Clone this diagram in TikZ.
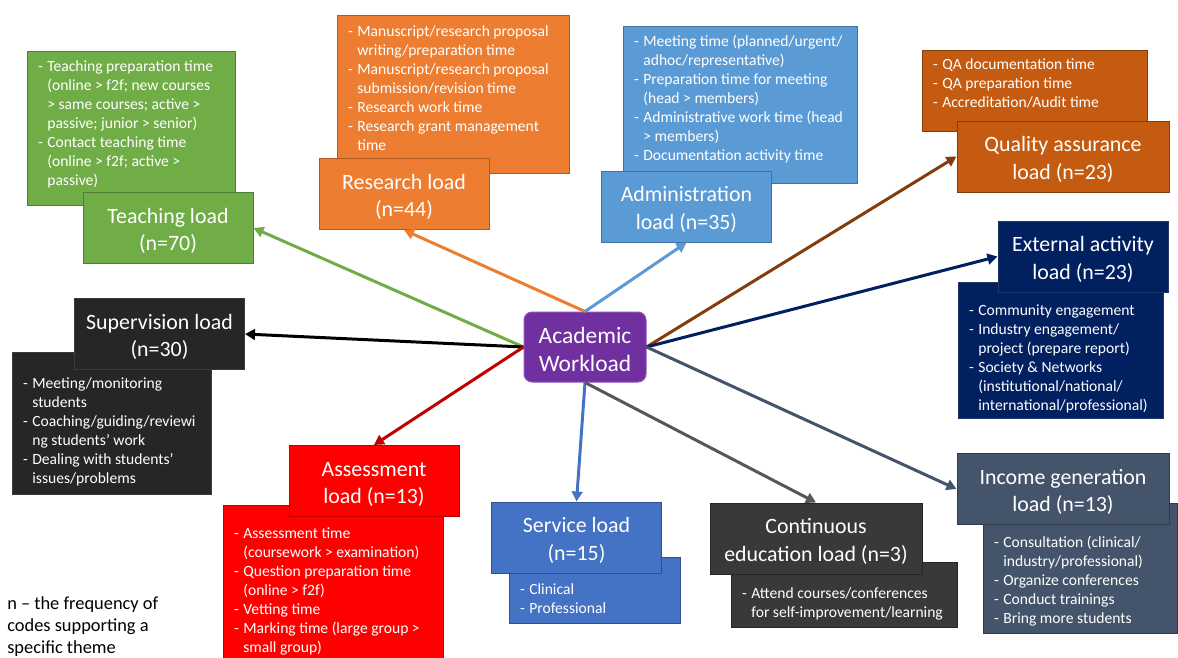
\documentclass[tikz,border=0pt]{standalone}
\usepackage{fontspec}
\setmainfont{Carlito}
\usetikzlibrary{arrows.meta}

\definecolor{teachfill}{HTML}{70AD47}\definecolor{teachline}{HTML}{507E32}
\definecolor{resfill}{HTML}{ED7D31}\definecolor{resline}{HTML}{AE5A21}
\definecolor{admfill}{HTML}{5B9BD5}\definecolor{admline}{HTML}{41719C}
\definecolor{qafill}{HTML}{C55A11}\definecolor{qaline}{HTML}{843C0C}
\definecolor{extfill}{HTML}{002060}\definecolor{extline}{HTML}{1F3864}
\definecolor{supfill}{HTML}{262626}\definecolor{supline}{HTML}{3A3A3A}
\definecolor{assfill}{HTML}{FF0000}\definecolor{assline}{HTML}{C00000}
\definecolor{servfill}{HTML}{4472C4}\definecolor{servline}{HTML}{2F528F}
\definecolor{contfill}{HTML}{3B3838}\definecolor{contline}{HTML}{262626}
\definecolor{incfill}{HTML}{44546A}\definecolor{incline}{HTML}{2F3B4A}
\definecolor{acadfill}{HTML}{7030A0}\definecolor{acadline}{HTML}{8E55B8}

\newdimen\pxu \pxu=0.75pt
\newcommand{\titlefont}{\fontsize{16.4}{20.5}\selectfont}
\newcommand{\detailfont}{\fontsize{11.7}{14.25}\selectfont}
\newcommand{\acadfont}{\fontsize{17.6}{21}\selectfont}
\newcommand{\notefont}{\fontsize{13.8}{16.5}\selectfont}
\newcommand{\tup}{\rule{0pt}{16pt}}
\newcommand{\itm}[1]{\par\hangindent=7pt\hangafter=1\noindent\strut\makebox[7pt][l]{-}#1\strut}
\newcommand{\dbox}[4]{\parbox[c][#2\pxu][t]{#1\pxu}{\raggedright\leftskip=10.5\pxu\rightskip=0pt plus 1fil\relax
  \vspace*{\dimexpr#3\pxu-\ht\strutbox\relax}#4}}

\begin{document}
\begin{tikzpicture}
        [x=0.75pt, y=-0.75pt,
         detail/.style={anchor=north west, inner sep=0pt, line width=0.75pt, text=white, font=\detailfont},
         title/.style={minimum width=127.5pt, minimum height=53.25pt, inner sep=0pt, line width=0.75pt,
                       align=center, text=white, font=\titlefont},
         widetitle/.style={title, minimum width=159pt},
         arr/.style={line width=2.25pt, -{Triangle[length=7.5pt,width=8pt]}}]
        \clip (0,0) rectangle (1178,657);
        \fill [white] (0,0) rectangle (1178,657);
        \node [detail, fill=teachfill, draw=teachline] (teachd) at (27,51) {\dbox{208}{154}{20}{%
            \itm{Teaching preparation time\newline (online > f2f; new courses\newline > same courses; active >\newline passive; junior > senior)}%
            \itm{Contact teaching time\newline (online > f2f; active >\newline passive)}}};
        \node [detail, fill=resfill, draw=resline] (resd) at (337,15) {\dbox{232}{158}{21}{%
            \itm{Manuscript/research proposal\newline writing/preparation time}%
            \itm{Manuscript/research proposal\newline submission/revision time}%
            \itm{Research work time}%
            \itm{Research grant management\newline time}}};
        \node [detail, fill=admfill, draw=admline] (admd) at (623,26) {\dbox{234}{157}{20}{%
            \itm{Meeting time (planned/urgent/\newline adhoc/representative)}%
            \itm{Preparation time for meeting\newline (head > members)}%
            \itm{Administrative work time (head\newline > members)}%
            \itm{Documentation activity time}}};
        \node [detail, fill=qafill, draw=qaline] (qad) at (922,50) {\dbox{225}{81}{19}{%
            \itm{QA documentation time}%
            \itm{QA preparation time}%
            \itm{Accreditation/Audit time}}};
        \node [detail, fill=extfill, draw=extline] (extd) at (958,282) {\dbox{205}{136}{33}{%
            \itm{Community engagement}%
            \itm{Industry engagement/\newline project (prepare report)}%
            \itm{Society \& Networks\newline (institutional/national/\newline international/professional)}}};
        \node [detail, fill=supfill, draw=supline] (supd) at (12,352) {\dbox{199}{142}{36}{%
            \itm{Meeting/monitoring\newline students}%
            \itm{Coaching/guiding/reviewi\newline ng students’ work}%
            \itm{Dealing with students’\newline issues/problems}}};
        \node [detail, fill=assfill, draw=assline] (assd) at (223,505) {\dbox{220}{170}{33}{%
            \itm{Assessment time\newline (coursework > examination)}%
            \itm{Question preparation time\newline (online > f2f)}%
            \itm{Vetting time}%
            \itm{Marking time (large group >\newline small group)}}};
        \node [detail, fill=servfill, draw=servline] (servd) at (509,557) {\dbox{171}{66}{37}{%
            \itm{Clinical}%
            \itm{Professional}}};
        \node [detail, fill=contfill, draw=contline] (contd) at (731,562) {\dbox{226}{65}{36}{%
            \itm{Attend courses/conferences\newline for self-improvement/learning}}};
        \node [detail, fill=incfill, draw=incline] (incd) at (983,503) {\dbox{194}{130}{44}{%
            \itm{Consultation (clinical/\newline industry/professional)}%
            \itm{Organize conferences}%
            \itm{Conduct trainings}%
            \itm{Bring more students}}};
        \node [title, fill=teachfill, draw=teachline] (teach) at (168,228) {\tup Teaching load\\(n=70)};
        \node [title, fill=resfill, draw=resline] (res) at (404,194) {\tup Research load\\(n=44)};
        \node [title, fill=admfill, draw=admline] (adm) at (686.5,206.5) {\tup Administration\\load (n=35)};
        \node [widetitle, fill=qafill, draw=qaline] (qa) at (1063,156.5) {\tup Quality assurance\\load (n=23)};
        \node [title, fill=extfill, draw=extline] (ext) at (1083,256.5) {\tup External activity\\load (n=23)};
        \node [title, fill=supfill, draw=supline] (sup) at (159.5,334) {\tup Supervision load\\(n=30)};
        \node [title, fill=assfill, draw=assline] (ass) at (374,481) {\tup Assessment\\load (n=13)};
        \node [title, fill=servfill, draw=servline] (serv) at (576.5,537.5) {\tup Service load\\(n=15)};
        \node [widetitle, fill=contfill, draw=contline] (cont) at (816,538.5) {\tup Continuous\\education load (n=3)};
        \node [widetitle, fill=incfill, draw=incline] (inc) at (1063,489) {\tup Income generation\\load (n=13)};
        \node [rounded corners=6pt, fill=acadfill, draw=acadline, line width=0.75pt, minimum width=91.5pt,
               minimum height=52.5pt, inner sep=0pt, align=center, text=white, font=\acadfont] (acad)
               at (585,347) {\rule{0pt}{16pt}Academic\\Workload};
        \draw [arr, teachfill] (acad.west) -- (teach.east);
        \draw [arr, black] (acad.west) -- (sup.east);
        \draw [arr, assline] (acad.west) -- (ass.north);
        \draw [arr, resfill] (acad.north) -- (res.south);
        \draw [arr, admfill] (acad.north) -- (adm.south);
        \draw [arr, qaline] (acad.east) -- (qa.west);
        \draw [arr, extfill] (acad.east) -- (ext.west);
        \draw [arr, incfill] (acad.east) -- (inc.west);
        \draw [arr, servfill] (acad.south) -- (serv.north);
        \draw [arr, contfill!85!white] (acad.south) -- (cont.north);
        \node [anchor=north west, inner sep=0pt, align=left, font=\notefont] (note) at (7,596)
            {n – the frequency of\\codes supporting a\\specific theme};
\end{tikzpicture}
\end{document}
